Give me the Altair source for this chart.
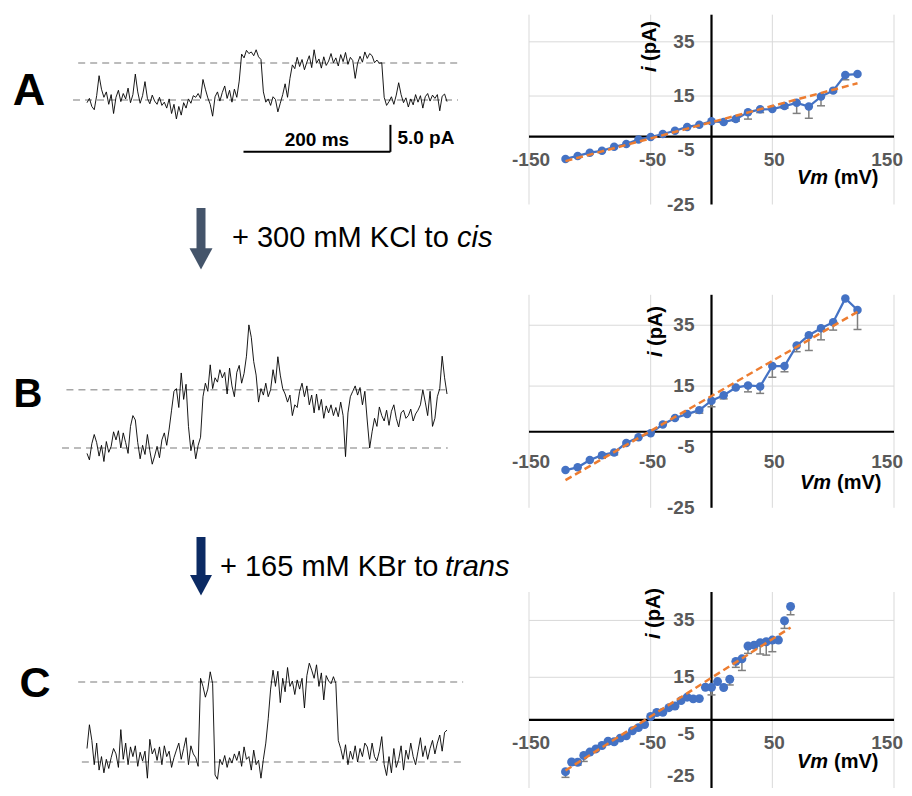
import altair as alt
import pandas as pd

FONT = "Liberation Sans"
BLUE = "#4472C4"
ORANGE = "#ED7D31"
GREY_LBL = "#595959"
GRID = "#d9d9d9"

# ---------------- single-channel traces (pA, relative to closed level) -------------
TRACE_MS = 490.0
trace_A = [-0.5, 0.3, -1.2, -1.8, 0.8, 4.5, 2.0, 0.5, 1.5, -0.8,
           1.0, -2.5, 0.5, 1.8, -0.3, 1.2, 0.2, 2.2, -0.5, 1.0,
           4.8, 1.5, -0.6, 0.8, 3.4, 0.3, -0.7, 0.9, -0.2, -0.8,
           0.5, -1.0, -0.4, -1.5, 0.2, -2.5, -0.8, -3.5, -1.2, -2.8,
           -0.5, -1.5, 0.2, -0.6, 0.8, 0.5, 1.2, 0.3, 3.8, 2.0,
           0.4, -0.8, -3.0, 0.6, 1.5, -0.2, 1.4, 2.6, 0.3, 1.8,
           -0.4, 2.0, 0.5, 3.5,
           8.5, 7.8, 9.2, 8.6, 8.9, 8.2, 9.3, 8.0, 7.5,
           1.5, -0.4, 0.2, -1.0, 0.6, 0.1, -2.2, -0.6, 1.0, 3.0, 0.5, 4.0,
           6.5, 5.8, 7.9, 6.2, 7.5, 5.6, 7.0, 8.2, 6.0, 9.3,
           6.8, 7.6, 5.9, 8.0, 6.4, 7.2, 8.6, 6.9, 7.8, 6.3,
           8.4, 7.1, 8.8, 6.6, 7.9, 7.3, 4.0, 6.8, 8.1, 7.0,
           8.9, 7.7, 8.6, 8.2, 6.9, 7.4, 6.8, 6.9,
           0.5, -1.0, -0.3, 0.6, -0.8, 0.9, 3.2, 1.0, -0.5, 0.4,
           -1.3, 0.2, -0.9, 1.0, -0.4, 0.8, -1.5, 0.6, 1.2, -0.2,
           0.9, 0.3, 1.0, -2.0, 0.7, 1.1, -0.3]
trace_B = [-1.0, -2.2, 0.8, 2.5, 1.0, -1.5, 0.5, -2.5, 1.2, -0.8,
           0.3, 3.0, 1.5, 3.2, 0.0, 2.8, 1.0, -1.0, 4.0, 6.0,
           5.2, 1.0, -2.0, 0.5, -1.2, 2.5, -0.5, -3.0, -1.5, 0.3,
           -1.8, 1.5, 2.8, 0.5, 3.5,
           7.0, 10.5, 11.0, 7.5, 13.9, 9.0, 11.8, 4.0, -0.5, 1.5, -2.0, 0.5, 2.0,
           9.5, 12.0, 10.5, 15.4, 11.0, 13.0, 12.2, 14.5, 13.0, 14.0,
           10.0, 14.8, 11.5, 9.5, 14.0, 15.3, 12.0, 13.8, 17.0, 22.8,
           20.5, 16.0, 13.5, 8.5, 11.0, 9.8, 12.0, 9.5, 10.8, 14.5,
           12.0, 16.9, 13.5, 11.0, 10.0,
           8.5, 9.8, 6.0, 8.0, 7.5, 10.5, 12.0, 9.5, 11.5, 8.0,
           9.8, 6.5, 10.0, 7.0, 9.0, 5.5, 7.8, 6.5, 8.0, 6.0,
           7.5, 5.8, 8.5, 6.0, -1.6,
           6.5, 9.5, 10.5, 11.5, 9.8, 11.2, 8.0, 10.5, 5.0, 0.0,
           3.0, 5.5, 4.0, 7.6, 6.0, 5.0, 7.0, 4.2, 6.8, 8.0,
           5.5, 3.9, 6.5, 7.0, 5.5, 6.0, 7.2, 5.0, 6.3, 7.0,
           8.0, 10.8, 8.5, 6.0, 10.5, 4.0, 5.5, 9.5, 11.0, 17.0, 13.0, 10.0]
trace_C = [2.5, 6.9, 4.0, -0.5, 3.5, -1.5, 1.0, -2.0, 0.5, -1.2,
           0.8, 2.5, 1.5, -1.0, 6.0, 0.5, 3.5, -0.5, 2.8, 1.0,
           3.0, -0.8, 1.8, 0.2, 2.0, -3.0, 4.2, 1.5, 2.5, 0.3,
           2.8, -0.5, 3.0, 1.0, 2.0, -1.0, 0.8, 2.2, 3.5, 0.5,
           2.5, 4.5, -0.5, 3.0, 1.5, 0.8, -0.8,
           15.5, 14.0, 12.0, 13.5, 16.7, 14.5,
           -2.4, -3.2, 0.5, -0.5, 1.2, -1.0, 0.8, -0.2, 1.5, 0.3,
           2.0, -0.8, 2.8, 0.5, 1.0, -1.5, 2.2, -0.5, 0.3, -3.0, 0.5, 3.5, 8.0,
           13.5, 17.0, 14.0, 16.8, 11.0, 15.5, 13.0, 17.5, 14.0, 15.0,
           12.5, 15.2, 13.5, 15.5, 10.0, 16.0, 18.3, 17.0, 15.5, 18.0,
           14.0, 16.5, 11.5, 16.0, 15.0, 14.5, 15.8, 14.5,
           4.0, 2.5, 0.5, 3.2, -0.5, 2.0, 0.5, 3.0, 0.0, 2.5,
           1.0, 3.5, 2.8, 0.5, 3.5, 1.0, 0.2, 2.0, 4.7, -0.5,
           -2.5, 1.0, -2.0, 2.5, -1.0, 0.5, 3.0, -1.5, 2.2, 0.5,
           3.5, 1.0, -0.5, 2.0, 4.5, 1.0, 3.0, 0.5, 2.5, 4.0,
           1.5, 3.5, 5.0, 2.0, 5.5, 5.9]
levels_A = [0.0, 6.85]
levels_B = [0.0, 10.8]
levels_C = [0.0, 14.8]

# ---------------- I-V data -------------------
vm_AB = [-120, -110, -100, -90, -80, -70, -60, -50, -40, -30, -20, -10, 0,
         10, 20, 30, 40, 50, 60, 70, 80, 90, 100, 110, 120]
i_A = [-8.2, -7.1, -5.9, -5.2, -3.7, -2.7, -1.0, -0.1, 1.0, 2.2, 3.6, 4.4, 5.7,
       5.4, 6.5, 9.0, 10.1, 10.2, 11.3, 12.5, 11.1, 14.8, 17.0, 22.8, 23.1]
e_A = [0, 0, 0, 0, 0, 0, 0, 0, 0, 0, 0, 0, 0,
       0, 0.8, 2.5, 1.2, 0, 0.8, 3.9, 4.3, 3.4, 0.5, 1.8, 0]
i_B = [-12.6, -11.7, -9.3, -7.7, -6.8, -3.7, -1.8, -0.5, 2.4, 4.5, 5.8, 7.1, 10.2,
       12.0, 14.5, 15.2, 14.9, 21.6, 21.6, 28.3, 31.7, 34.0, 36.0, 43.8, 40.0]
e_B = [0, 0, 0, 1.0, 0.8, 0, 0, 0, 0, 0, 0, 1.0, 2.0,
       1.2, 0, 2.1, 2.3, 3.7, 1.9, 2.0, 5.0, 3.8, 2.6, 0, 6.4]
vm_C = [-120, -115, -110, -105, -100, -95, -90, -85, -80, -75, -70, -65, -60,
        -55, -50, -45, -40, -35, -30, -25, -20, -15, -10, -5, 0, 5, 10, 15,
        20, 25, 30, 35, 40, 45, 50, 55, 60, 65]
i_C = [-18.2, -14.8, -14.9, -12.5, -11.3, -10.2, -9.0, -7.5, -7.7, -6.4, -5.6,
       -3.8, -2.7, -1.6, 1.2, 2.6, 2.7, 4.3, 4.9, 6.8, 8.0, 7.4, 7.5, 11.5,
       11.5, 13.5, 11.4, 14.3, 20.6, 21.5, 26.0, 26.3, 27.2, 27.5, 28.1, 28.1,
       34.9, 39.9]
e_C = [2.0, 0, 1.0, 2.1, 0.5, 0, 0, 0, 0, 0, 0, 0, 0, 0, 0, 0, 0, 0, 0, 0,
       0, 0, 0, 0, 2.7, 0, 0, 2.0, 2.1, 4.1, 2.6, 1.0, 4.0, 4.7, 4.1, 0, 2.7, 2.9]
trend_A = ([-120, 120], [-9.0, 19.7])
trend_B = ([-120, 120], [-15.9, 39.4])
trend_C = ([-120, 65], [-17.8, 32.5])

x_ticks = [-150, -50, 50, 150]
y_ticks = [-25, -5, 15, 35]
y_grid = [15, 35]

layers = []


def Q(field, scale):
    return alt.X(field, type="quantitative", scale=scale, axis=None)


def QY(field, scale):
    return alt.Y(field, type="quantitative", scale=scale, axis=None)


def iv_panel(vm, cur, err, trend, yrange, with_line, xlab_dy, ytitle, xtitle, msize,
             bottom_dy=0):
    xs = alt.Scale(domain=[-150, 150], range=[521, 886], nice=False, zero=False)
    ys = alt.Scale(domain=[-25, 45], range=yrange, nice=False, zero=False)
    out = []
    gv = pd.DataFrame({"gx": x_ticks, "lo": [-25] * 4, "hi": [45] * 4})
    out.append(alt.Chart(gv).mark_rule(color=GRID, strokeWidth=1).encode(
        x=Q("gx", xs), y=QY("lo", ys), y2="hi"))
    gh = pd.DataFrame({"gy": y_grid, "lo": [-150] * 2, "hi": [150] * 2})
    out.append(alt.Chart(gh).mark_rule(color=GRID, strokeWidth=1).encode(
        y=QY("gy", ys), x=Q("lo", xs), x2="hi"))
    ax_h = pd.DataFrame({"y": [0], "lo": [-150], "hi": [150]})
    out.append(alt.Chart(ax_h).mark_rule(color="black", strokeWidth=2.2).encode(
        y=QY("y", ys), x=Q("lo", xs), x2="hi"))
    ax_v = pd.DataFrame({"x": [0], "lo": [-25], "hi": [45]})
    out.append(alt.Chart(ax_v).mark_rule(color="black", strokeWidth=2.2).encode(
        x=Q("x", xs), y=QY("lo", ys), y2="hi"))
    # tick labels (the last one is right-aligned so it stays inside the page)
    xl = pd.DataFrame({"v": x_ticks[:-1], "lab": [str(t) for t in x_ticks[:-1]],
                       "z": [0] * 3})
    out.append(alt.Chart(xl).mark_text(font=FONT, fontSize=19, fontWeight="bold",
                                       color=GREY_LBL, dy=xlab_dy, dx=2).encode(
        x=Q("v", xs), y=QY("z", ys), text="lab:N"))
    xr = pd.DataFrame({"v": x_ticks[-1:], "lab": [str(x_ticks[-1])], "z": [0]})
    out.append(alt.Chart(xr).mark_text(font=FONT, fontSize=19, fontWeight="bold",
                                       color=GREY_LBL, dy=xlab_dy, dx=9,
                                       align="right").encode(
        x=Q("v", xs), y=QY("z", ys), text="lab:N"))
    yl = pd.DataFrame({"v": y_ticks[1:], "lab": [str(t) for t in y_ticks[1:]],
                       "z": [0] * 3})
    out.append(alt.Chart(yl).mark_text(font=FONT, fontSize=19, fontWeight="bold",
                                       color=GREY_LBL, align="right", baseline="middle",
                                       dx=-17).encode(
        x=Q("z", xs), y=QY("v", ys), text="lab:N"))
    yb = pd.DataFrame({"v": y_ticks[:1], "lab": [str(y_ticks[0])], "z": [0]})
    out.append(alt.Chart(yb).mark_text(font=FONT, fontSize=19, fontWeight="bold",
                                       color=GREY_LBL, align="right", baseline="middle",
                                       dx=-17, dy=bottom_dy).encode(
        x=Q("z", xs), y=QY("v", ys), text="lab:N"))
    # error bars (minus direction)
    ed = pd.DataFrame({"v": vm, "i": cur, "e": err})
    ed = ed[ed["e"] > 0].copy()
    ed["lo"] = ed["i"] - ed["e"]
    out.append(alt.Chart(ed).mark_rule(color="#7f7f7f", strokeWidth=1.5).encode(
        x=Q("v", xs), y=QY("i", ys), y2="lo"))
    out.append(alt.Chart(ed).mark_point(shape="M-1,0L1,0", size=64, filled=False,
                                        color="#7f7f7f", strokeWidth=1.5, opacity=1).encode(
        x=Q("v", xs), y=QY("lo", ys)))
    d = pd.DataFrame({"v": vm, "i": cur})
    if with_line:
        out.append(alt.Chart(d).mark_line(color=BLUE, strokeWidth=2.25).encode(
            x=Q("v", xs), y=QY("i", ys)))
    out.append(alt.Chart(d).mark_circle(size=msize, color=BLUE, opacity=1).encode(
        x=Q("v", xs), y=QY("i", ys)))
    td = pd.DataFrame({"v": trend[0], "i": trend[1]})
    out.append(alt.Chart(td).mark_line(color=ORANGE, strokeWidth=2.5,
                                       strokeDash=[7, 4]).encode(
        x=Q("v", xs), y=QY("i", ys)))
    # axis titles
    one = pd.DataFrame({"t": ["i"]})
    out.append(alt.Chart(one).mark_text(font=FONT, fontSize=20, fontWeight="bold",
                                        fontStyle="italic", angle=270, align="left",
                                        baseline="middle", color="black").encode(
        x=alt.value(ytitle[0]), y=alt.value(ytitle[1]), text="t:N"))
    two = pd.DataFrame({"t": ["(pA)"]})
    out.append(alt.Chart(two).mark_text(font=FONT, fontSize=20, fontWeight="bold",
                                        angle=270, align="left", baseline="middle",
                                        color="black").encode(
        x=alt.value(ytitle[0]), y=alt.value(ytitle[1] - 11), text="t:N"))
    vmt = pd.DataFrame({"t": ["Vm"]})
    out.append(alt.Chart(vmt).mark_text(font=FONT, fontSize=20, fontWeight="bold",
                                        fontStyle="italic", align="left",
                                        baseline="middle", color="black").encode(
        x=alt.value(xtitle[0]), y=alt.value(xtitle[1]), text="t:N"))
    mvt = pd.DataFrame({"t": ["(mV)"]})
    out.append(alt.Chart(mvt).mark_text(font=FONT, fontSize=20, fontWeight="bold",
                                        align="left", baseline="middle",
                                        color="black").encode(
        x=alt.value(xtitle[0] + 37), y=alt.value(xtitle[1]), text="t:N"))
    return out


def trace_panel(vals, levels, yrange, lvl_x):
    xs = alt.Scale(domain=[0, TRACE_MS], range=[79, 439], nice=False, zero=False)
    ys = alt.Scale(domain=[-10, 10], range=yrange, nice=False, zero=False)
    n = len(vals)
    dt = TRACE_MS / (n - 1)
    out = []
    lv = pd.DataFrame({"lev": levels, "a": [lvl_x[0][0], lvl_x[1][0]],
                       "b": [lvl_x[0][1], lvl_x[1][1]]})
    out.append(alt.Chart(lv).mark_rule(color="#a6a6a6", strokeWidth=1.5,
                                       strokeDash=[7, 5]).encode(
        y=QY("lev", ys), x=Q("a", xs), x2="b"))
    td = pd.DataFrame({"t": [k * dt for k in range(n)], "i": vals})
    out.append(alt.Chart(td).mark_line(color="black", strokeWidth=0.9).encode(
        x=Q("t", xs), y=QY("i", ys)))
    return out, xs, ys


# trace A (5.4 px per pA; closed level at y=92)
tA, xsA, ysA = trace_panel(trace_A, levels_A, [146, 38],
                           [(-19, 505), (-12, 505)])
layers += tA
# scale bar
SB_T0, SB_MS, SB_I0, SB_PA = 213, 200, -9.6, 5.0
sbh = pd.DataFrame({"a": [SB_T0], "b": [SB_T0 + SB_MS], "i": [SB_I0]})
layers.append(alt.Chart(sbh).mark_rule(color="black", strokeWidth=2).encode(
    x=Q("a", xsA), x2="b", y=QY("i", ysA)))
sbv = pd.DataFrame({"t": [SB_T0 + SB_MS], "a": [SB_I0], "b": [SB_I0 + SB_PA]})
layers.append(alt.Chart(sbv).mark_rule(color="black", strokeWidth=2).encode(
    x=Q("t", xsA), y=QY("a", ysA), y2="b"))
sbt = pd.DataFrame({"t": [SB_T0 + SB_MS / 2], "i": [SB_I0], "lab": ["200 ms"]})
layers.append(alt.Chart(sbt).mark_text(font=FONT, fontSize=19, fontWeight="bold",
                                       baseline="middle", dy=-12).encode(
    x=Q("t", xsA), y=QY("i", ysA), text="lab:N"))
sbp = pd.DataFrame({"t": [SB_T0 + SB_MS], "i": [SB_I0 + SB_PA / 2], "lab": ["5.0 pA"]})
layers.append(alt.Chart(sbp).mark_text(font=FONT, fontSize=19, fontWeight="bold",
                                       align="left", baseline="middle", dx=7).encode(
    x=Q("t", xsA), y=QY("i", ysA), text="lab:N"))

tB, _, _ = trace_panel(trace_B, levels_B, [494, 386], [(-34, 491), (-28, 491)])
layers += tB
tC, _, _ = trace_panel(trace_C, levels_C, [808, 700], [(-7, 512), (-12, 512)])
layers += tC

# I-V panels
layers += iv_panel(vm_AB, i_A, e_A, trend_A, [196.5, 6.7], True, 23,
                   (642, 64), (789, 170), 72)
layers += iv_panel(vm_AB, i_B, e_B, trend_B, [499.8, 286.8], True, 30,
                   (648, 349), (792, 475), 72)
layers += iv_panel(vm_C, i_C, e_C, trend_C, [783, 584], False, 23,
                   (646, 631), (789, 754), 80, bottom_dy=-15)

# panel letters
for lab, x, y, fs in [("A", 21, 97, 45), ("B", 20, 399, 40), ("C", 27, 689, 43)]:
    layers.append(alt.Chart(pd.DataFrame({"t": [lab]})).mark_text(
        font=FONT, fontSize=fs, fontWeight="bold", color="black",
        baseline="alphabetic").encode(x=alt.value(x), y=alt.value(y), text="t:N"))

# arrows between rows
for col, y1, y2, yh, sz in [("#44546A", 200, 244, 250.5, 529),
                            ("#0B2A63", 529, 570, 577, 484)]:
    k = pd.DataFrame({"k": [0]})
    layers.append(alt.Chart(k).mark_rule(color=col, strokeWidth=9).encode(
        x=alt.value(193), y=alt.value(y1), y2=alt.value(y2)))
    layers.append(alt.Chart(k).mark_point(shape="M-1,-0.9L1,-0.9L0,0.95Z", size=sz,
                                          filled=True, color=col, opacity=1).encode(
        x=alt.value(193), y=alt.value(yh)))

# treatment texts
for txt, ital, x, y in [("+ 300 mM KCl to ", "cis", 224, 238.5),
                        ("+ 165 mM KBr to ", "trans", 212, 568)]:
    layers.append(alt.Chart(pd.DataFrame({"t": [txt]})).mark_text(
        font=FONT, fontSize=29, align="left", baseline="alphabetic", color="black").encode(
        x=alt.value(x), y=alt.value(y), text="t:N"))
    layers.append(alt.Chart(pd.DataFrame({"t": [ital]})).mark_text(
        font=FONT, fontSize=29, fontStyle="italic", align="left", baseline="alphabetic",
        color="black").encode(x=alt.value(x + 225), y=alt.value(y), text="t:N"))

chart = alt.layer(*layers).resolve_scale(x="independent", y="independent").properties(
    width=896, height=780, padding=0,
    autosize=alt.AutoSizeParams(type="none")
).configure_view(stroke=None)

chart.save("out.html", embed_options={"renderer": "svg", "actions": False})
